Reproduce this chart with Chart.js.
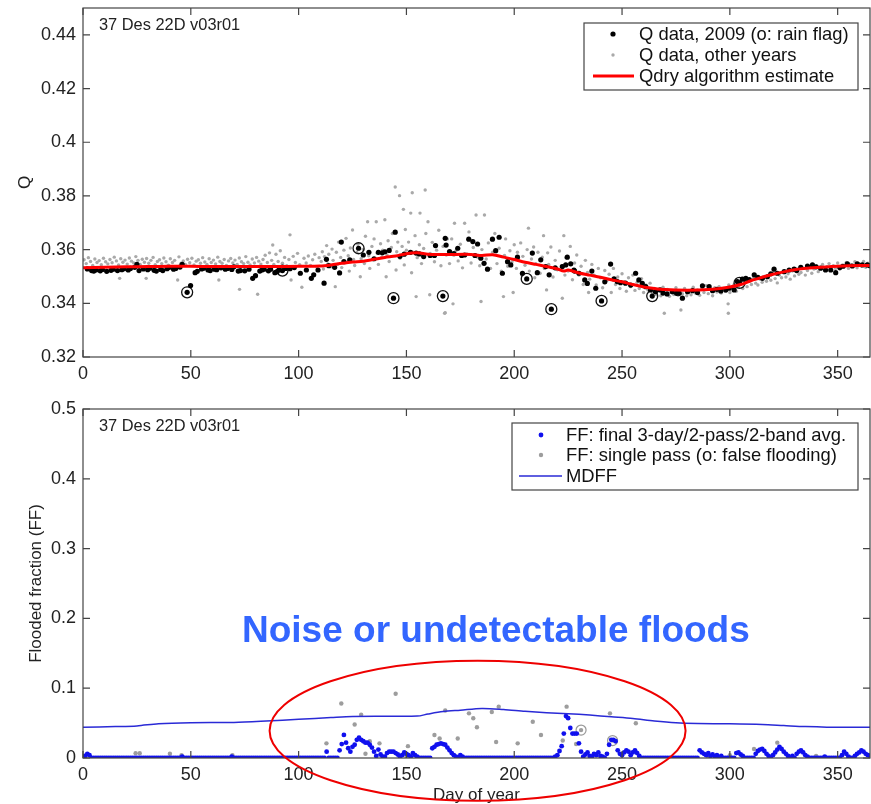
<!DOCTYPE html>
<html>
<head>
<meta charset="utf-8">
<script src="https://cdn.jsdelivr.net/npm/chart.js@4.4.0/dist/chart.umd.min.js"></script>
<style>
  body { margin: 0; background: #fff; }
  #wrap { position: relative; width: 871px; height: 804px; }
  .panel { position: absolute; left: 0; }
  canvas { display: block; }
</style>
</head>
<body>
<div id="wrap">
  <div class="panel" style="top:0"><canvas id="qChart" width="871" height="390"></canvas></div>
  <div class="panel" style="top:390px"><canvas id="ffChart" width="871" height="414"></canvas></div>
</div>
<script>
// ---- data ----
const siteTag = '37 Des 22D v03r01';
const dayTicks = [0, 50, 100, 150, 200, 250, 300, 350];
const qTicks = [0.32, 0.34, 0.36, 0.38, 0.4, 0.42, 0.44];
const ffTicks = [0, 0.1, 0.2, 0.3, 0.4, 0.5];

// Q data, 2009 [day, Q]
const q2009 = [
  [2,.3528],[4,.3522],[5,.3520],[6,.3524],[8,.3521],[9,.3526],[11,.3519],[13,.3523],[14,.3527],[16,.3522],
  [18,.3525],[19,.3529],[21,.3524],[22,.3530],[24,.3534],[25,.3545],[26,.3522],[28,.3528],[30,.3525],[31,.3531],
  [33,.3523],[34,.3520],[36,.3526],[37,.3522],[39,.3529],[40,.3534],[42,.3527],[43,.3530],[45,.3535],[46,.3545],
  [48.3,.3441],[49.9,.3466],[52,.3514],[53,.3519],[55,.3528],[56,.3531],[58,.3524],[59,.3522],[61,.3527],[62,.3525],
  [64,.3532],[66,.3527],[67,.3530],[69,.3526],[70,.3536],[72,.3520],[73,.3522],[75,.3521],[77,.3527],[78.7,.3493],
  [80,.3503],[82,.3520],[83,.3524],[84,.3527],[86,.3521],[87,.3527],[89,.3514],[90,.3518],[91,.3524],[92.5,.3522],
  [94,.3530],[96,.3529],[98,.3533],[100.8,.3512],[103.6,.3524],[105.9,.3493],[107,.3506],[109,.3524],[111.8,.3475],[112.9,.3564],
  [114,.3540],[116.7,.3534],[119,.3513],[119.8,.3628],[121,.3555],[123.7,.3562],[127.8,.3605],[130,.3580],[132.6,.3590],[135,.3566],
  [137,.3590],[138.8,.3588],[140,.3592],[142,.3597],[144,.3419],[144.8,.3665],[147,.3575],[149,.3583],[151.9,.3590],[154.5,.3587],
  [156,.3584],[158,.3574],[161,.3578],[163,.3578],[163.5,.3615],[166.9,.3427],[168,.3642],[168.4,.3617],[170,.3593],[172,.3585],
  [173.8,.3605],[175.6,.3578],[177,.3580],[178.9,.3639],[180.8,.3630],[181.8,.3578],[183,.3621],[184.5,.3568],[186,.3549],[187.6,.3527],
  [189.9,.3639],[191.4,.3596],[193,.3646],[194.5,.3512],[196.9,.3555],[198.4,.3543],[201.5,.3572],[203.8,.3512],[205.8,.3491],[208.4,.3587],
  [210.7,.3514],[212.3,.3562],[214.6,.3537],[216.2,.3506],[217.2,.3378],[219,.3532],[222.3,.3537],[223.9,.3543],[224.6,.3572],[226.2,.3547],
  [227.7,.3524],[228,.3520],[230,.3512],[232.7,.3487],[233.9,.3474],[236,.3520],[237.8,.3456],[240.5,.3409],[242,.3480],[244.7,.3546],
  [246.3,.3491],[247.8,.3481],[249.3,.3477],[251.6,.3475],[254,.3468],[256.3,.3512],[257.8,.3487],[259.4,.3474],[261,.3462],[263.2,.3450],
  [264,.3427],[265.5,.3443],[267.6,.3450],[269,.3438],[270.9,.3435],[273.3,.3443],[275.3,.3437],[276.5,.3437],[278,.3419],[280.4,.3443],
  [282.7,.3447],[285,.3440],[287.3,.3465],[290.4,.3462],[292,.3447],[294,.3452],[295.8,.3446],[298.1,.3450],[299.7,.3456],[302,.3450],
  [303.5,.3481],[304.5,.3476],[305.8,.3490],[307.4,.3493],[309,.3488],[311.3,.3506],[313,.3497],[315.1,.3493],[317.4,.3499],[319,.3510],
  [320.5,.3527],[322,.3512],[325.2,.3518],[327.5,.3524],[329.8,.3527],[331,.3522],[332.9,.3534],[336,.3539],[338.3,.3543],[340,.3536],
  [342.1,.3531],[344.4,.3524],[346.8,.3524],[349.1,.3514],[351,.3533],[352.5,.3538],[354.5,.3547],[356.8,.3539],[359.1,.3547],[361.4,.3543],
  [363.7,.3543],[365,.3540]
];
// 2009 points with rain flag (circled)
const qRainFlag = [
  [48.3,.3441],[92.5,.3522],[127.8,.3605],[144,.3419],[166.9,.3427],[205.8,.3491],[217.2,.3378],[240.5,.3409],[264,.3427],[304.5,.3476]
];
// Q data, other years [day, Q]
const qOtherYears = [
  [0.5,.3562],[1.5,.3548],[2.5,.3570],[3.5,.3556],[4.5,.3541],[5.5,.3565],[6.5,.3552],[7.5,.3559],[8.5,.3544],[9.5,.3568],
  [10.5,.3555],[11.5,.3547],[12.5,.3563],[13.5,.3551],[14.5,.3572],[15.5,.3558],[16.5,.3543],[17,.3493],[17.5,.3566],[18.5,.3553],
  [19.5,.3561],[20.5,.3546],[21.5,.3569],[22.5,.3557],[23.5,.3550],[24.5,.3574],[25.5,.3560],[26.5,.3545],[27.5,.3564],[28.5,.3553],
  [29.3,.3493],[29.5,.3567],[30.5,.3549],[31.5,.3560],[32.5,.3571],[33.5,.3544],[34.5,.3556],[35.5,.3562],[36.5,.3548],[37.5,.3569],
  [38.5,.3555],[39.5,.3542],[40.5,.3566],[41.5,.3552],[42.5,.3560],[43.9,.3487],[44.5,.3573],[45.5,.3549],[46.5,.3558],[47.5,.3545],
  [48.5,.3564],[49.5,.3551],[50.5,.3568],[51.5,.3543],[52.5,.3557],[53.5,.3562],[54.5,.3549],[55.5,.3570],[56.5,.3554],[57.5,.3545],
  [58.5,.3566],[59.5,.3552],[60.5,.3561],[61.5,.3547],[62.5,.3572],[63,.3487],[63.5,.3556],[64.5,.3549],[65.5,.3563],[66.5,.3541],
  [67.5,.3558],[68.5,.3567],[69.5,.3550],[70.5,.3561],[71.5,.3545],[72.6,.3452],[72.5,.3569],[73.5,.3555],[74.5,.3548],[75.5,.3574],
  [76.5,.3553],[77.5,.3543],[78.5,.3565],[79.5,.3550],[80.5,.3571],[81,.3434],[81.5,.3557],[82.5,.3546],[83.5,.3563],[84.5,.3579],
  [85.5,.3552],[86.5,.3588],[87.5,.3560],[88,.3617],[88.5,.3545],[89.5,.3583],[90.5,.3556],[91.5,.3596],[92.5,.3549],[93.5,.3571],
  [94.5,.3540],[95.5,.3563],[96,.3655],[96.5,.3487],[97.5,.3575],[98.5,.3552],[99.5,.3586],[100.5,.3544],[101.5,.3460],[102.5,.3568],
  [103.5,.3550],[104.5,.3576],[105.5,.3541],[106.5,.3562],[107.5,.3583],[108.5,.3535],[109.5,.3570],
  [110.5,.3556],[111,.3592],[111.5,.3528],[112,.3574],[113,.3615],[113.5,.3547],[114,.3583],[115,.3536],[115.5,.3602],[116,.3560],
  [117,.3462],[117.5,.3590],[118,.3545],[118.5,.3628],[119.5,.3571],[120,.3533],[121,.3598],[121.5,.3556],[122,.3642],[123,.3577],
  [123.5,.3520],[124,.3606],[125,.3673],[125.5,.3563],[126,.3541],[127,.3589],[127.5,.3620],[128.6,.3499],[129,.3566],[130,.3601],
  [130.5,.3548],[131,.3650],[132,.3704],[132.5,.3577],[133,.3530],[134,.3612],[134.5,.3562],[135,.3640],[136,.3704],[136.5,.3586],
  [137,.3545],[138,.3622],[138.5,.3571],[139,.3598],[140,.3711],[140.6,.3499],[141,.3580],[141.5,.3633],[142,.3556],[143,.3608],
  [143.5,.3660],[144.8,.3833],[145.2,.3524],[145.5,.3592],[146,.3628],[146.8,.3801],[147,.3568],[148,.3612],[148.6,.3750],[149,.3543],
  [149.5,.3675],[150,.3598],[151,.3628],[152,.3736],[152.4,.3514],[152.7,.3812],[153,.3590],[154,.3652],[154.5,.3425],[155,.3570],
  [156,.3618],[156.3,.3736],[157,.3548],[158,.3604],[158.7,.3822],[159,.3660],[160,.3704],[160.8,.3432],[161,.3586],[162,.3627],
  [163,.3555],[164,.3598],[165,.3672],[166,.3540],[167,.3612],[167.7,.3363],[168,.3365],[168.5,.3580],[169,.3640],[170,.3548],
  [171,.3640],[171.6,.3398],[172.3,.3698],[173,.3596],[174,.3558],[175,.3620],[176,.3532],[177,.3698],[178,.3584],[179,.3666],
  [180,.3550],[181,.3608],[182.3,.3729],[183,.3572],[184,.3540],[184.6,.3407],[185,.3600],[186.2,.3729],[187,.3565],[188,.3625],
  [189,.3530],[190,.3590],[191,.3660],[192,.3548],[193,.3605],[194,.3520],[195,.3425],[195.5,.3578],[196,.3640],[197,.3538],
  [198,.3596],[199,.3555],[199.5,.3440],[200,.3618],
  [201,.3530],[201.5,.3590],[202,.3560],[203,.3625],[203.5,.3505],[204,.3575],[205,.3542],[206,.3600],[206.6,.3680],[207,.3520],
  [208,.3565],[209,.3610],[209.5,.3495],[210,.3548],[211,.3590],[212,.3512],[213,.3572],[213.6,.3652],[214,.3530],[215,.3450],
  [215.5,.3588],[216,.3545],[217,.3610],[218,.3498],[219,.3560],[220,.3525],[221,.3595],[222,.3540],[222.3,.3419],[223,.3652],
  [223.5,.3505],[224,.3570],[225,.3520],[226,.3612],[227,.3488],[228,.3550],[229,.3580],[230,.3505],[231,.3538],[232,.3470],
  [233,.3560],[234,.3515],[234.5,.3440],[235,.3490],[236,.3545],[237,.3505],[238,.3468],[239,.3530],[240,.3495],[241,.3458],
  [242,.3522],[243,.3485],[244,.3508],[245,.3440],[246,.3530],[247,.3470],[248,.3498],[249,.3455],[250,.3510],[251,.3480],
  [252,.3445],[253,.3495],[254,.3462],[255,.3505],[256,.3448],[257,.3478],[258,.3455],[259,.3492],[260,.3440],[261,.3468],
  [262,.3450],[263,.3475],[264,.3438],
  [265,.3455],[266,.3432],[267,.3448],[268,.3428],[269,.3460],[269.6,.3363],[270,.3438],[271,.3452],[272,.3426],[273,.3445],
  [274,.3433],[275,.3458],[276,.3430],[277,.3447],[277.3,.3375],[278,.3436],[279,.3455],[280,.3428],[281,.3442],[282,.3432],
  [283,.3460],[284,.3438],[285,.3450],[286,.3430],[287,.3455],[288,.3440],[289,.3466],[290,.3436],[291,.3452],[292,.3428],
  [293,.3458],[294,.3442],[295,.3462],[296,.3438],[297,.3455],[298,.3445],[299.2,.3398],[299.3,.3363],[299.5,.3468],[300,.3440],
  [301,.3455],[302,.3470],[303,.3445],[304,.3462],[305,.3475],[306,.3455],[307,.3480],[308,.3462],[309,.3488],[310,.3470],
  [311,.3495],[312,.3475],[313,.3468],[314,.3490],[315,.3478],[316,.3500],[317,.3482],[318,.3505],[319,.3486],[320,.3512],
  [321,.3492],[322,.3476],[323,.3505],[324,.3495],[325,.3518],[326,.3498],[327,.3510],[328,.3490],[329,.3520],[330,.3502],
  [331,.3528],[332,.3508],[333,.3515],[334,.3530],[335,.3505],[336,.3522],[337,.3535],[338,.3512],[339,.3528],[340,.3540],
  [341,.3518],[342,.3532],[343,.3545],[344,.3522],[345,.3536],[346,.3548],[347,.3525],[348,.3540],[349,.3530],[350,.3550],
  [351,.3528],[352,.3542],[353,.3535],[354,.3552],[355,.3530],[356,.3545],[357,.3538],[358,.3555],[359,.3532],[360,.3548],
  [361,.3540],[362,.3556],[363,.3534],[364,.3549],[365,.3541]
];
// Qdry algorithm estimate [day, Q]
const qDry = [
  [0,.3532],[10,.3534],[20,.3536],[30,.3537],[40,.3538],[50,.3538],[60,.3537],[70,.3537],[80,.3537],[90,.3537],
  [100,.3538],[110,.3539],[115,.3543],[120,.3549],[125,.3554],[130,.3557],[135,.3564],[140,.3571],[145,.3576],[150,.3585],
  [155,.3588],[160,.3583],[165,.3582],[170,.3582],[180,.3582],[185,.3578],[190,.3581],[195,.3572],[200,.3563],[205,.3553],
  [210,.3545],[215,.3537],[220,.3528],[223,.3520],[225,.3524],[230,.3513],[235,.3505],[240,.3497],[245,.3488],[250,.3480],
  [255,.3470],[260,.3461],[265,.3455],[270,.3451],[280,.3449],[290,.3451],[300,.3461],[305,.3470],[310,.3485],[315,.3497],
  [320,.3508],[325,.3517],[330,.3525],[340,.3533],[350,.3538],[360,.3541],[365,.3541]
];

// FF: final 3-day/2-pass/2-band avg., one value per day (day 1..365)
const ffFinal = [
  .003,.006,.004,0,0,0,0,0,0,0,  0,0,0,0,0,0,0,0,0,0,  0,0,0,0,0,0,0,0,0,0,  0,0,0,0,0,0,0,0,0,0,
  0,0,0,0,0,.002,0,0,0,0,  0,0,0,0,0,0,0,0,0,0,  0,0,0,0,0,0,0,0,.002,0,  0,0,0,0,0,0,0,0,0,0,
  0,0,0,0,0,0,0,0,0,0,  0,0,0,0,0,0,0,0,0,0,  0,0,0,0,0,0,0,0,0,0,  0,0,.009,0,0,0,0,0,.011,.020,
  .033,.022,.014,.009,.016,.019,.026,.029,.026,.024,  .022,.022,.019,.015,.009,.003,.012,.005,.002,.002,
  .007,.009,.009,.009,.007,.005,.002,.004,.008,.006,  .004,.002,.007,.004,.002,0,0,0,0,0,
  0,.014,.016,.019,.020,.021,.020,.019,.015,.011,  .007,.004,.002,0,.004,.002,0,0,0,0,
  0,0,0,0,0,0,0,0,0,0,  0,0,0,0,0,0,0,0,0,0,  0,0,0,0,0,0,0,0,0,0,  0,0,0,0,0,0,0,0,.002,.004,
  .010,.017,.035,.060,.057,.043,.035,.035,.035,.021,  .009,.002,.005,.008,.003,.002,.006,.004,.008,.003,
  .002,0,.006,.019,.026,.026,.024,.011,.006,.004,  .008,.011,.009,.004,.008,.011,.007,.003,0,0,
  0,0,0,0,0,0,0,0,0,0,  0,0,0,0,0,0,0,0,0,0,  0,0,0,0,0,.011,.008,.006,.004,.007,
  .003,.005,.002,.004,0,.003,0,0,0,0,  0,0,.007,.008,.005,.003,0,0,0,0,
  0,.006,.010,.012,.013,.010,.006,.003,0,.004,  .008,.012,.016,.013,.009,.006,.003,0,.003,0,
  .006,.009,.011,.008,.004,.002,0,0,0,0,  0,0,0,.002,0,0,0,0,0,0,
  0,.004,.009,.006,.002,0,0,.003,.006,.008,  .011,.009,.006,.004,.003
];
// FF: single pass [day, FF]
const ffSingle = [
  [24.4,.0067],[26.3,.0067],[40.3,.006],[45.7,.004],[69.3,.004],[112.9,.021],[119.8,.078],[126,.048],[129,.062],[131,.006],
  [133,.024],[137.5,.021],[145,.092],[150,.003],[150.7,.017],[163,.033],[165.4,.028],[168,.068],[173.8,.028],[179,.064],
  [181,.057],[182.7,.044],[189.6,.066],[191.6,.023],[192.8,.0736],[201.6,.021],[208.6,.052],[212.4,.033],[222.5,.025],[224.3,.0736],
  [228.7,.020],[231,.040],[236,.003],[244.4,.064],[245.6,.025],[256.4,.0497],[290,.002],[300,.004],[311.2,.013],[322,.022],[340,.003]
];
// single-pass points flagged as false flooding (circled)
const ffFalseFlood = [[231,.040],[245.6,.025]];
// MDFF [day, FF]
const mdff = [
  [0,.044],[15,.045],[25,.046],[35,.049],[50,.0505],[70,.051],[85,.053],[100,.0555],[115,.058],[125,.0595],
  [140,.0598],[155,.060],[160,.063],[167,.0665],[175,.0685],[185,.071],[195,.0695],[205,.067],[215,.065],[225,.0635],
  [235,.0615],[245,.059],[255,.0565],[265,.053],[275,.0505],[285,.0495],[300,.049],[315,.048],[325,.0465],[335,.045],
  [345,.0442],[365,.044]
];
const noteText = 'Noise or undetectable floods';
const noteCenter = [183, 0.039]; // ellipse centre, day / FF

// ---- helpers ----
Chart.defaults.font.family = '"Liberation Sans", Arial, Helvetica, sans-serif';
Chart.defaults.color = '#222';
const xy = arr => arr.map(p => ({ x: p[0], y: p[1] }));
const fixedTicks = list => scale => { scale.ticks = list.map(v => ({ value: v })); };

// inward tick marks on all four sides + box frame
const framePlugin = {
  id: 'frame',
  afterDatasetsDraw(chart) {
    const { ctx, chartArea: a, scales } = chart;
    ctx.save();
    ctx.strokeStyle = '#444';
    ctx.lineWidth = 1.2;
    ctx.beginPath();
    scales.x.ticks.forEach(t => {
      const px = scales.x.getPixelForValue(t.value);
      ctx.moveTo(px, a.bottom); ctx.lineTo(px, a.bottom - 7);
      ctx.moveTo(px, a.top); ctx.lineTo(px, a.top + 7);
    });
    scales.y.ticks.forEach(t => {
      const py = scales.y.getPixelForValue(t.value);
      ctx.moveTo(a.left, py); ctx.lineTo(a.left + 7, py);
      ctx.moveTo(a.right, py); ctx.lineTo(a.right - 7, py);
    });
    ctx.stroke();
    ctx.strokeRect(a.left, a.top, a.width, a.height);
    ctx.restore();
  }
};

// legend box inside the axes, site tag, annotation
const decorPlugin = {
  id: 'decor',
  afterDraw(chart, args, o) {
    const { ctx, chartArea: a, scales } = chart;
    ctx.save();
    // site tag
    ctx.font = '16.4px "Liberation Sans", Arial, sans-serif';
    ctx.fillStyle = '#222';
    ctx.textBaseline = 'middle';
    ctx.fillText(siteTag, a.left + 16, a.top + o.tagDy);
    // legend
    const L = o.legend;
    ctx.fillStyle = '#fff';
    ctx.fillRect(L.x, L.y, L.w, L.h);
    ctx.strokeStyle = '#444';
    ctx.lineWidth = 1.2;
    ctx.strokeRect(L.x, L.y, L.w, L.h);
    ctx.font = '18.4px "Liberation Sans", Arial, sans-serif';
    L.rows.forEach((r, i) => {
      const ds = chart.data.datasets[r.ds];
      const y = L.y + L.rowY[i];
      if (r.kind === 'line') {
        ctx.strokeStyle = ds.borderColor;
        ctx.lineWidth = ds.borderWidth;
        ctx.beginPath();
        ctx.moveTo(L.lineFrom, y); ctx.lineTo(L.lineTo, y);
        ctx.stroke();
      } else {
        ctx.fillStyle = ds.backgroundColor;
        ctx.beginPath();
        ctx.arc(L.markX, y, ds.pointRadius, 0, Math.PI * 2);
        ctx.fill();
      }
      ctx.fillStyle = '#111';
      ctx.fillText(ds.label, L.textX, y + 1);
    });
    // annotation
    if (o.note) {
      const n = o.note;
      ctx.font = 'bold 37px "Liberation Sans", Arial, sans-serif';
      ctx.fillStyle = n.color;
      ctx.textBaseline = 'alphabetic';
      ctx.fillText(noteText, n.textX, n.textY);
      const cx = scales.x.getPixelForValue(noteCenter[0]);
      const cy = scales.y.getPixelForValue(noteCenter[1]);
      ctx.strokeStyle = '#ee0000';
      ctx.lineWidth = 2;
      ctx.beginPath();
      ctx.ellipse(cx, cy, n.rx, n.ry, 0, 0, Math.PI * 2);
      ctx.stroke();
    }
    ctx.restore();
  }
};

function axes(yMin, yMax, yList, yTitle, yTitlePad, xHeight, xTitle) {
  return {
    x: {
      type: 'linear', min: 0, max: 365,
      afterBuildTicks: fixedTicks(dayTicks),
      afterFit: s => { s.height = xHeight; s.paddingLeft = 0; s.paddingRight = 0; },
      grid: { display: false, drawTicks: false, tickLength: 0 }, border: { display: false },
      ticks: { font: { size: 18 }, padding: 6, maxRotation: 0, color: '#222', callback: v => String(v) },
      title: xTitle ? { display: true, text: xTitle, font: { size: 17 }, color: '#222', padding: { top: 0, bottom: -2 } } : { display: false }
    },
    y: {
      type: 'linear', min: yMin, max: yMax,
      afterBuildTicks: fixedTicks(yList),
      afterFit: s => { s.width = 83; s.paddingTop = 0; s.paddingBottom = 0; },
      grid: { display: false, drawTicks: false, tickLength: 0 }, border: { display: false },
      ticks: { font: { size: 18 }, padding: 7, color: '#222', callback: v => String(v) },
      title: { display: true, text: yTitle, font: { size: 17 }, color: '#222', padding: { top: yTitlePad, bottom: 0 } }
    }
  };
}

const common = {
  responsive: false,
  animation: false,
  devicePixelRatio: 1,
  events: [],
  plugins: { legend: { display: false }, tooltip: { enabled: false } }
};

// ---- top panel: Q ----
new Chart(document.getElementById('qChart'), {
  type: 'scatter',
  data: {
    datasets: [
      { label: 'Qdry algorithm estimate', data: xy(qDry), showLine: true, borderColor: '#ff0000', borderWidth: 3, pointRadius: 0, tension: 0.3 },
      { label: 'Q data, 2009 (o: rain flag)', data: xy(q2009), backgroundColor: '#000', borderWidth: 0, pointRadius: 2.6 },
      { label: 'rain flag', data: xy(qRainFlag), backgroundColor: 'rgba(0,0,0,0)', borderColor: '#111', borderWidth: 1.3, pointRadius: 5.5 },
      { label: 'Q data, other years', data: xy(qOtherYears), backgroundColor: '#a9a9a9', borderWidth: 0, pointRadius: 1.7 }
    ]
  },
  options: Object.assign({}, common, {
    layout: { autoPadding: false, padding: { top: 8, right: 1, left: 0, bottom: 0 } },
    scales: axes(0.32, 0.45, qTicks, 'Q', 15, 33, null),
    plugins: Object.assign({}, common.plugins, {
      decor: {
        tagDy: 17,
        legend: {
          x: 584, y: 23, w: 274, h: 67, markX: 613, textX: 639, lineFrom: 593, lineTo: 634,
          rowY: [11, 32, 53],
          rows: [{ ds: 1, kind: 'dot' }, { ds: 3, kind: 'dot' }, { ds: 0, kind: 'line' }]
        }
      }
    })
  }),
  plugins: [framePlugin, decorPlugin]
});

// ---- bottom panel: flooded fraction ----
new Chart(document.getElementById('ffChart'), {
  type: 'scatter',
  data: {
    datasets: [
      { label: 'MDFF', data: xy(mdff), showLine: true, borderColor: '#2a2ad6', borderWidth: 1.5, pointRadius: 0, tension: 0.3 },
      { label: 'FF: final 3-day/2-pass/2-band avg.', data: ffFinal.map((v, i) => ({ x: i + 1, y: v })), backgroundColor: '#1010ee', borderWidth: 0, pointRadius: 2.4 },
      { label: 'false flooding', data: xy(ffFalseFlood), backgroundColor: 'rgba(0,0,0,0)', borderColor: '#999', borderWidth: 1.2, pointRadius: 5 },
      { label: 'FF: single pass (o: false flooding)', data: xy(ffSingle), backgroundColor: '#9d9d9d', borderWidth: 0, pointRadius: 2.2 }
    ]
  },
  options: Object.assign({}, common, {
    layout: { autoPadding: false, padding: { top: 19, right: 1, left: 0, bottom: 0 } },
    scales: axes(0, 0.5, ffTicks, 'Flooded fraction (FF)', 26, 46, 'Day of year'),
    plugins: Object.assign({}, common.plugins, {
      decor: {
        tagDy: 17,
        legend: {
          x: 512, y: 33, w: 346, h: 67, markX: 541, textX: 566, lineFrom: 519, lineTo: 562,
          rowY: [12, 32, 53],
          rows: [{ ds: 1, kind: 'dot' }, { ds: 3, kind: 'dot' }, { ds: 0, kind: 'line' }]
        },
        note: { color: '#3366ff', textX: 242, textY: 252, rx: 208, ry: 70 }
      }
    })
  }),
  plugins: [framePlugin, decorPlugin]
});
</script>
</body>
</html>
